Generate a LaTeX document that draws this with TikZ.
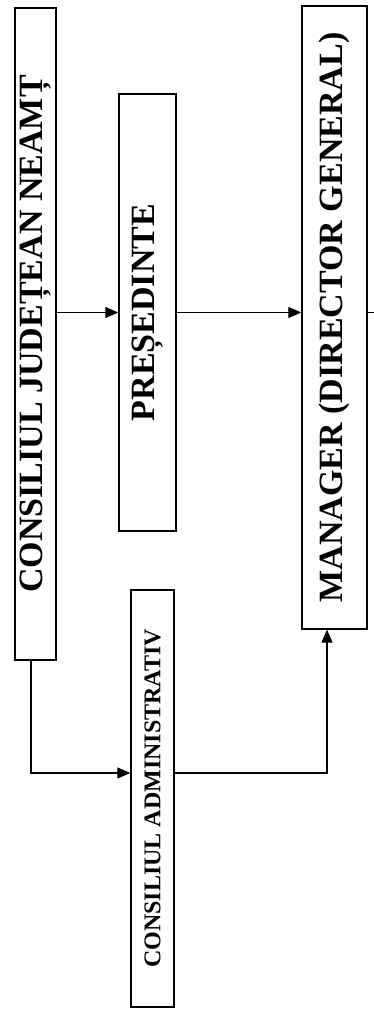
\documentclass[tikz,border=0pt]{standalone}
\usepackage{fontspec}
\setmainfont{Liberation Serif}
\usetikzlibrary{arrows.meta}
\begin{document}
\begin{tikzpicture}[x=1pt,y=1pt,
  box/.style={draw, line width=1.3pt, inner sep=0pt, font=\bfseries\fontsize{34}{40}\selectfont},
  smallbox/.style={box, font=\bfseries\fontsize{24}{28}\selectfont},
  arr/.style={line width=1.2pt, -{Triangle[length=13pt,width=11pt]}},
  ln/.style={line width=1.2pt}]
\useasboundingbox (0,0) rectangle (374,-1011);
\node[box, minimum width=41pt, minimum height=652pt] (cj) at (35.5,-334) {\rotatebox{90}{CONSILIUL JUDEȚEAN NEAMȚ}};
\node[box, minimum width=57pt, minimum height=437pt] (pr) at (147.5,-312.5) {\rotatebox{90}{PREȘEDINTE}};
\node[smallbox, minimum width=43pt, minimum height=417pt] (ca) at (152.5,-798.5) {\rotatebox{90}{CONSILIUL ADMINISTRATIV}};
\node[box, minimum width=65pt, minimum height=623pt] (mg) at (334.5,-317.5) {\rotatebox{90}{MANAGER (DIRECTOR GENERAL)}};
\coordinate (stub) at (374,-312.5);
\draw[arr] (cj.east |- pr.west) -- (pr.west);
\draw[arr] (pr.east) -- (mg.west |- pr.east);
\draw[ln] (mg.east |- pr.east) -- (stub);
\draw[arr] ([xshift=-4.5pt]cj.south) |- ([yshift=25.5pt]ca.west);
\draw[arr] ([yshift=25.5pt]ca.east) -| ([xshift=-7.5pt]mg.south);
\end{tikzpicture}
\end{document}
